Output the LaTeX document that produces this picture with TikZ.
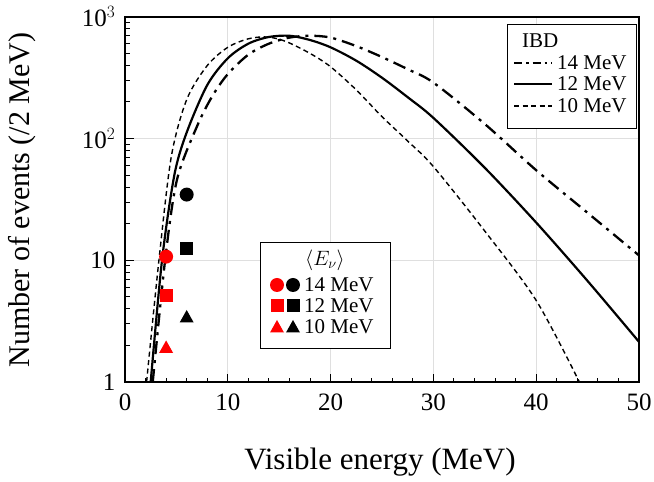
\documentclass[tikz,border=0pt]{standalone}
\usepackage{fontspec}
\setmainfont{Liberation Serif}
\begin{document}
\begin{tikzpicture}[x=1pt,y=1pt]
\tikzset{grid/.style={gray!25,line width=1.2},
 cs/.style={line width=2.2},
 cdd/.style={line width=2.3,dash pattern=on 13 off 6 on 3 off 6},
 cd/.style={line width=1.4,dash pattern=on 5 off 3.5},
 lbl/.style={font=\fontsize{25}{28}\selectfont},
 leg/.style={font=\fontsize{21}{24}\selectfont,inner sep=0,anchor=west}}
\useasboundingbox (0,0) rectangle (654,482);
\begin{scope}[shift={(125,100)},x=10.28pt,y=121.7pt]
 \foreach \e in {10,20,30,40} \draw[grid] (\e,0) -- (\e,3);
 \foreach \l in {1,2} \draw[grid] (0,\l) -- (50,\l);
 \foreach \e in {2,4,...,48} \draw[line width=1] (\e,0) -- ++(0,4pt);
 \foreach \e in {10,20,...,40} \draw[line width=1] (\e,0) -- ++(0,8pt);
 \foreach \d in {0,1,2} {
   \foreach \m in {2,...,9} \draw[line width=1] (0,{\d+log10(\m)}) -- ++(5pt,0);
   \draw[line width=1] (0,\d) -- ++(9pt,0);}
 \begin{scope}
 \clip (0,0) rectangle (50,3);
 \draw[cs] plot[smooth] coordinates {(2.5,0) (3.6,1) (4.8,1.7) (6,2.05) (8,2.44) (10,2.66) (12,2.78) (14,2.835) (16,2.845) (18,2.81) (20,2.75) (22.5,2.64) (25,2.5) (27.5,2.34) (30,2.17) (35,1.76) (40,1.31) (45,0.83) (50,0.33)};
 \draw[cd] plot[smooth] coordinates {(2.1,0) (3.3,1) (4.5,1.85) (6,2.32) (8,2.6) (10,2.75) (12,2.82) (13.8,2.835) (15.6,2.8) (18,2.7) (20,2.59) (22.5,2.4) (25,2.18) (27.5,1.98) (30,1.77) (35,1.24) (40,0.67) (44.2,0)};
 \draw[cdd] plot[smooth] coordinates {(2.7,0) (3.9,1) (5.05,1.66) (7,2.1) (8.5,2.35) (10,2.53) (12,2.69) (14,2.78) (16,2.83) (18,2.845) (20,2.83) (22.5,2.76) (25,2.67) (27.5,2.57) (30,2.46) (35,2.12) (40,1.74) (45,1.39) (50,1.04)};
 \end{scope}
 \fill[red] (4,1.03) circle (7pt);
 \fill[red] (4,0.71) ++(-6.5pt,-6.5pt) rectangle ++(13pt,13pt);
 \fill[red] (4,0.28) ++(0,7.5pt) -- ++(-7pt,-12.5pt) -- ++(14pt,0) -- cycle;
 \fill (6,1.54) circle (7pt);
 \fill (6,1.1) ++(-6.5pt,-6.5pt) rectangle ++(13pt,13pt);
 \fill (6,0.53) ++(0,7.5pt) -- ++(-7pt,-12.5pt) -- ++(14pt,0) -- cycle;
 \draw[line width=1.4] (0,0) rectangle (50,3);
 \foreach \e in {0,10,...,50} \node[lbl,anchor=north] at (\e,-0.07) {\e};
 \node[lbl,anchor=east] at (-0.6,0) {1};
 \node[lbl,anchor=east] at (-0.6,1) {10};
 \node[lbl,anchor=east] at (-0.6,2) {10$^2$};
 \node[lbl,anchor=east] at (-0.6,3) {10$^3$};
\end{scope}
\node[font=\fontsize{31}{34}\selectfont] (xl) at (380,20) {Visible energy (MeV)};
\node[font=\fontsize{30}{34}\selectfont,rotate=90] (yl) at (22,282) {Number of events (/2 MeV)};
% IBD legend
\draw[fill=white,line width=0.8] (507,354) rectangle (636,458);
\node[leg] (ibd) at (522,441) {IBD};
\draw[cdd,dash pattern=on 8 off 4 on 2.5 off 4] (514,419) -- (552,419);
\draw[cs] (514,398) -- (552,398);
\draw[cd] (514,376) -- (552,376);
\node[leg] (i14) at (557,419) {14 MeV};
\node[leg] (i12) at (557,398) {12 MeV};
\node[leg] (i10) at (557,376) {10 MeV};
% Enu legend
\draw[fill=white,line width=0.8] (260,134) rectangle (390,240);
\node[font=\fontsize{22}{24}\selectfont] (en) at (325,222) {$\big\langle E_\nu\big\rangle$};
\fill[red] (277,197) circle (7); \fill (293,197) circle (7);
\fill[red] (270.5,169.5) rectangle ++(13,13); \fill (286.5,169.5) rectangle ++(13,13);
\fill[red] (277,162) -- ++(-7,-12.5) -- ++(14,0) -- cycle;
\fill (293,162) -- ++(-7,-12.5) -- ++(14,0) -- cycle;
\node[leg] (e14) at (304,197) {14 MeV};
\node[leg] (e12) at (304,176) {12 MeV};
\node[leg] (e10) at (304,155) {10 MeV};
\end{tikzpicture}
\end{document}
